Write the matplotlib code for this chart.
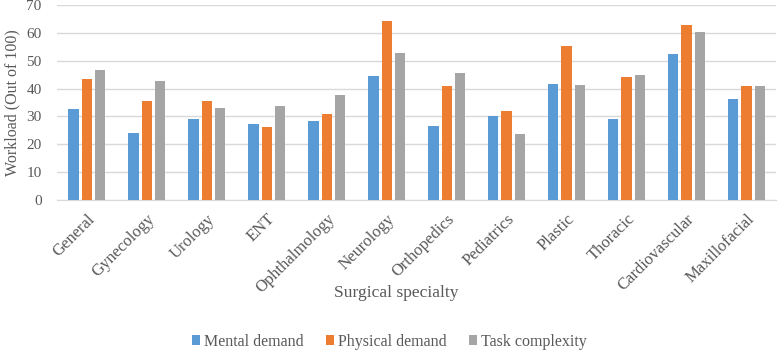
import numpy as np
import matplotlib
matplotlib.use("Agg")
import matplotlib.pyplot as plt

plt.rcParams['font.family'] = ['Liberation Serif', 'DejaVu Serif']

specialties = ["General", "Gynecology", "Urology", "ENT", "Ophthalmology", "Neurology",
               "Orthopedics", "Pediatrics", "Plastic", "Thoracic", "Cardiovascular", "Maxillofacial"]
mental = [32.8, 23.9, 28.9, 27.2, 28.3, 44.6, 26.6, 30.1, 41.5, 28.9, 52.5, 36.2]
physical = [43.5, 35.5, 35.7, 26.2, 31.0, 64.3, 40.9, 32.0, 55.3, 44.1, 62.9, 40.8]
complexity = [46.8, 42.6, 32.9, 33.6, 37.6, 52.7, 45.7, 23.7, 41.2, 44.8, 60.4, 40.9]

fig = plt.figure(figsize=(7.78, 3.51), dpi=100)
ax = fig.add_axes([0.073, 0.43, 0.925, 0.556])

x = np.arange(len(specialties))
w = 0.17
off = 0.22
ax.bar(x - off, mental, w, color="#5B9BD5", label="Mental demand", zorder=3)
ax.bar(x, physical, w, color="#ED7D31", label="Physical demand", zorder=3)
ax.bar(x + off, complexity, w, color="#A5A5A5", label="Task complexity", zorder=3)

ax.set_xlim(-0.5, len(specialties) - 0.5)
ax.set_ylim(0, 70)
ax.set_yticks(range(0, 71, 10))
ax.grid(axis="y", color="#D9D9D9", linewidth=1, zorder=0)
for s in ["top", "right", "left"]:
    ax.spines[s].set_visible(False)
ax.spines["bottom"].set_color("#D9D9D9")
ax.tick_params(length=0, colors="#595959")
ax.tick_params(axis="y", pad=11, labelsize=11)
ax.tick_params(axis="x", pad=8, labelsize=12)
ax.set_xticks(x)
ax.set_xticklabels(specialties, rotation=45, ha="right", rotation_mode="anchor")
ax.set_ylabel("Workload (Out of 100)", fontsize=11.5, color="#595959")
fig.text(0.509, 0.165, "Surgical specialty", fontsize=12.6, color="#595959",
         ha="center", va="center")

fig.legend(loc="center", bbox_to_anchor=(0.5, 0.027), ncol=3, frameon=False,
           fontsize=11.5, handlelength=0.55, handleheight=0.55, handletextpad=0.2,
           columnspacing=1.4, labelcolor="#595959")

fig.savefig("out.png", dpi=100)
